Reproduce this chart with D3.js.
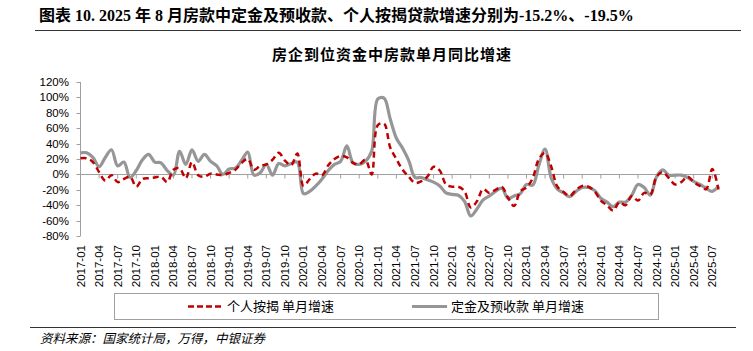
<!DOCTYPE html>
<html lang="zh">
<head>
<meta charset="UTF-8">
<title>房企到位资金中房款单月同比增速</title>
<script src="https://d3js.org/d3.v7.min.js"></script>
<style>
    body { margin: 0; padding: 0; background: #fff; }
    svg { display: block; }
    .cjk { font-family: "Noto Sans CJK SC", sans-serif; }
    .num { font-family: "Liberation Sans", Arial, sans-serif; }
</style>
</head>
<body>
<svg id="chart" width="753" height="351"></svg>
<script>
    // month categories 2017-01 .. 2025-08
    const startYear = 2017, monthCount = 104;
    const months = [];
    for (let i = 0; i < monthCount; i++) {
        const y = startYear + Math.floor(i / 12), m = i % 12 + 1;
        months.push(y + "-" + (m < 10 ? "0" + m : m));
    }

    // 个人按揭 单月增速 (%)
    const mortgage = [
        21, 21, 16, 3, -8, -1, -10, -6, -3, -16, -6, -5,
        -4, -3, -10, 6, 8, -5, 16, -1, -3, 1, 0, -1,
        2, 6, 15, 20, 6, 11, 13, 19, 28, 18, 12, 27,
        -15, -6, 1, -1, 12, 20, 24, 22, 15, 13, 19, 0,
        64, 66, 35, 20, 6, -3, -11, -9, -3, 10, 5, -13,
        -16, -16, -22, -43, -35, -19, -24, -20, -16, -30, -41, -22,
        -17, -5, 20, 28, 10, -16, -23, -28, -20, -15, -16, -22,
        -34, -40, -47, -36, -40, -28, -34, -24, -26, -3, 3, -5,
        -13, -10, -3, -10, -15, -19, 7, -19.5
    ];

    // 定金及预收款 单月增速 (%)
    const deposit = [
        28, 28, 22, 10, 22, 32, 11, 16, -4, 5, 19, 26,
        16, 15, 5, -1, 30, 13, 32, 17, 26, 17, 11, 0,
        7, 8, 18, 29, -1, 2, 13, -1, 14, 11, 14, 16,
        -25, -22, -15, -6, 5, 13, 17, 37, 15, 13, 17, 30,
        98, 99, 72, 47, 34, 18, -4, -4, -7, -10, -15, -24,
        -26, -27, -35, -54, -45, -33, -28, -22, -18, -31, -28, -25,
        -13, -14, 12, 33, -5, -19, -24, -29, -22, -17, -17, -21,
        -31, -36, -42, -36, -36, -27, -13, -17, -27, -3, 6, -1,
        -1, -1, -4, -9, -13, -18, -22, -15.2
    ];

    const yTicks = [-80, -60, -40, -20, 0, 20, 40, 60, 80, 100, 120];
    const seriesNames = ["个人按揭 单月增速", "定金及预收款 单月增速"];

    const svg = d3.select("#chart");

    // titles
    svg.append("text")
        .attr("x", 39).attr("y", 21)
        .attr("font-family", "'Liberation Serif', 'Noto Sans CJK SC', serif")
        .attr("font-weight", "bold")
        .attr("font-size", 16)
        .attr("fill", "#000")
        .text("图表 10. 2025 年 8 月房款中定金及预收款、个人按揭贷款增速分别为-15.2%、-19.5%");

    svg.append("line")
        .attr("x1", 35).attr("x2", 741).attr("y1", 30.5).attr("y2", 30.5)
        .attr("stroke", "#333").attr("stroke-width", 1);

    svg.append("text")
        .attr("class", "cjk")
        .attr("x", 392).attr("y", 60)
        .attr("text-anchor", "middle")
        .attr("font-weight", "bold")
        .attr("font-size", 15)
        .attr("letter-spacing", 1)
        .text("房企到位资金中房款单月同比增速");

    // scales
    const x = d3.scaleLinear().domain([0, monthCount - 1]).range([80.5, 718.5]);
    const y = d3.scaleLinear().domain([-80, 120]).range([236, 82]);

    // y axis
    const yAxis = svg.append("g");
    yAxis.append("line")
        .attr("x1", 80.5).attr("x2", 80.5).attr("y1", y(120)).attr("y2", y(-80))
        .attr("stroke", "#a0a0a0");
    yAxis.selectAll(".yt").data(yTicks).join("line")
        .attr("x1", 76.5).attr("x2", 80.5)
        .attr("y1", d => Math.round(y(d)) + 0.5).attr("y2", d => Math.round(y(d)) + 0.5)
        .attr("stroke", "#a0a0a0");
    yAxis.selectAll(".yl").data(yTicks).join("text")
        .attr("class", "num")
        .attr("x", 69).attr("y", d => y(d) + 4)
        .attr("text-anchor", "end")
        .attr("font-size", 11.5)
        .attr("fill", "#000")
        .text(d => d + "%");

    // x axis on the zero line
    const tickIdx = d3.range(0, monthCount, 3);
    const xAxis = svg.append("g");
    xAxis.append("line")
        .attr("x1", 80.5).attr("x2", 720).attr("y1", Math.round(y(0)) + 0.5).attr("y2", Math.round(y(0)) + 0.5)
        .attr("stroke", "#a0a0a0");
    xAxis.selectAll(".xt").data(tickIdx).join("line")
        .attr("x1", d => x(d)).attr("x2", d => x(d))
        .attr("y1", Math.round(y(0)) + 0.5).attr("y2", Math.round(y(0)) + 4.5)
        .attr("stroke", "#a0a0a0");
    xAxis.selectAll(".xl").data(tickIdx).join("text")
        .attr("class", "num")
        .attr("transform", d => `translate(${x(d) + 4},245) rotate(-90)`)
        .attr("text-anchor", "end")
        .attr("font-size", 11.5)
        .attr("fill", "#000")
        .text(d => months[d]);

    // lines
    const line = d3.line()
        .x((d, i) => x(i))
        .y(d => y(d))
        .curve(d3.curveCatmullRom.alpha(0.5));

    svg.append("path")
        .datum(deposit)
        .attr("d", line)
        .attr("fill", "none")
        .attr("stroke", "#969696")
        .attr("stroke-width", 3.2)
        .attr("stroke-linejoin", "round");

    svg.append("path")
        .datum(mortgage)
        .attr("d", line)
        .attr("fill", "none")
        .attr("stroke", "#c00000")
        .attr("stroke-width", 2.5)
        .attr("stroke-dasharray", "6,4");

    // legend
    const legend = svg.append("g");
    legend.append("rect")
        .attr("x", 114.5).attr("y", 293.5).attr("width", 544).attr("height", 26)
        .attr("fill", "#fff").attr("stroke", "#a0a0a0");
    legend.append("line")
        .attr("x1", 188).attr("x2", 224).attr("y1", 306.5).attr("y2", 306.5)
        .attr("stroke", "#c00000").attr("stroke-width", 2.5).attr("stroke-dasharray", "6,3");
    legend.append("text").attr("class", "cjk")
        .attr("x", 227).attr("y", 311).attr("font-size", 13)
        .text(seriesNames[0]);
    legend.append("line")
        .attr("x1", 412).attr("x2", 447).attr("y1", 306.5).attr("y2", 306.5)
        .attr("stroke", "#969696").attr("stroke-width", 3);
    legend.append("text").attr("class", "cjk")
        .attr("x", 451).attr("y", 311).attr("font-size", 13)
        .text(seriesNames[1]);

    // footer
    svg.append("line")
        .attr("x1", 30).attr("x2", 736).attr("y1", 327.5).attr("y2", 327.5)
        .attr("stroke", "#333").attr("stroke-width", 1);
    svg.append("text").attr("class", "cjk")
        .attr("x", 40).attr("y", 343)
        .attr("font-size", 12.5)
        .attr("font-style", "italic")
        .text("资料来源：国家统计局，万得，中银证券");
</script>
</body>
</html>
